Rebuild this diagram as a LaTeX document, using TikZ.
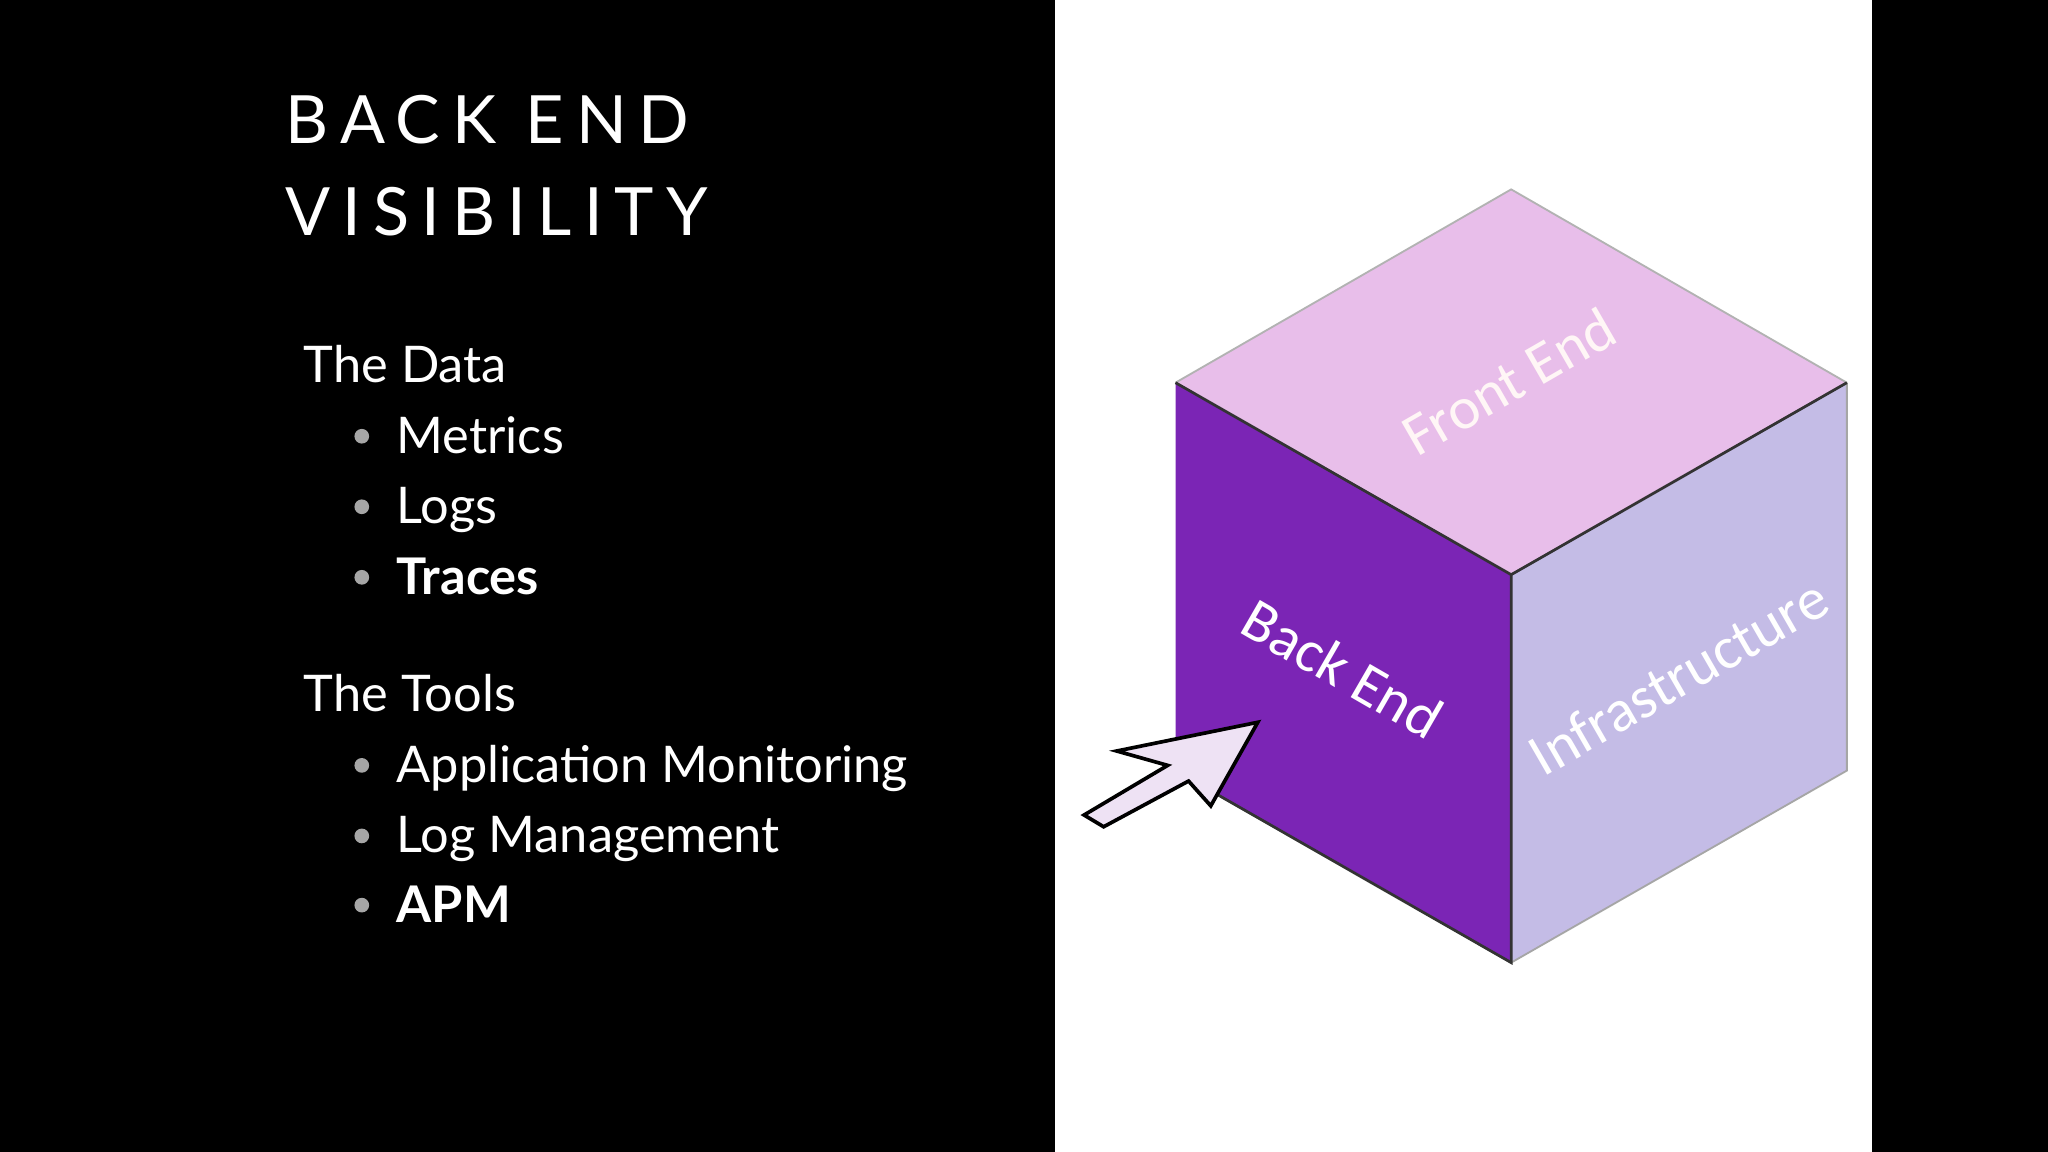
\documentclass[tikz,border=0pt]{standalone}
\usepackage{fontspec}
\setmainfont{Lato}
\newfontfamily\cubefont{Carlito}
\begin{document}
\begin{tikzpicture}[x=0.01cm,y=-0.01cm,
  tx/.style={anchor=base west,text=white,inner sep=0pt,font=\fontsize{11}{12}\selectfont},
  bul/.style={circle,fill=gray!70,inner sep=0pt,minimum size=3.2pt},
  ttl/.style={anchor=base west,text=white,inner sep=0pt,font=\fontsize{14.5}{16}\selectfont\addfontfeature{LetterSpace=18}}]
\fill[black] (0,0) rectangle (1568,882);
\fill[white] (808,0) rectangle (1433,882);
\useasboundingbox (0,0) rectangle (1568,882);
\node[ttl] (t1) at (218,110) {BACK END};
\node[ttl] (t2) at (218,180) {VISIBILITY};
\node[tx] (d) at (232,293) {The Data};
\foreach \n/\y/\t in {m/334/Metrics,l/388/Logs,tr/442/\textbf{Traces},am/586/Application Monitoring,lm/640/Log Management,apm/693/\textbf{APM}}{
  \node[bul] (b\n) at (277,\y) {};
  \node[tx] (\n) at (303,\y+13) {\t};
}
\node[tx] (tl) at (232,545) {The Tools};
% cube
\coordinate (T) at (1157,145); \coordinate (L) at (900,293); \coordinate (R) at (1414,293);
\coordinate (C) at (1157,440); \coordinate (B) at (1157,737); \coordinate (BL) at (900,590); \coordinate (BR) at (1414,590);
\fill[color={rgb,255:red,232;green,190;blue,234}] (T)--(R)--(C)--(L)--cycle;
\fill[color={rgb,255:red,123;green,37;blue,181}] (L)--(C)--(B)--(BL)--cycle;
\fill[color={rgb,255:red,196;green,188;blue,230}] (C)--(R)--(BR)--(B)--cycle;
\draw[gray!60,line width=0.4pt] (L)--(T)--(R);
\draw[gray!70,line width=0.4pt] (R)--(BR)--(B);
\draw[black!80,line width=0.6pt] (L)--(C)--(R) (BL)--(B)--(C);
\node[text=white!85!pink,rotate=30,font=\cubefont\fontsize{13}{14}\selectfont] (fe) at (1155,292) {Front End};
\node[text=white,rotate=-30,font=\cubefont\fontsize{13}{14}\selectfont] (be) at (1028,512) {Back End};
\node[text=white,rotate=30,font=\cubefont\fontsize{13}{14}\selectfont] (inf) at (1285,518) {Infrastructure};
% arrow
\draw[black,line width=0.8pt,fill={rgb,255:red,238;green,226;blue,244}]
 (963,553)--(927,617)--(910,598)--(845,633)--(830,624)--(894,586)--(855,575)--cycle;
\end{tikzpicture}
\end{document}
